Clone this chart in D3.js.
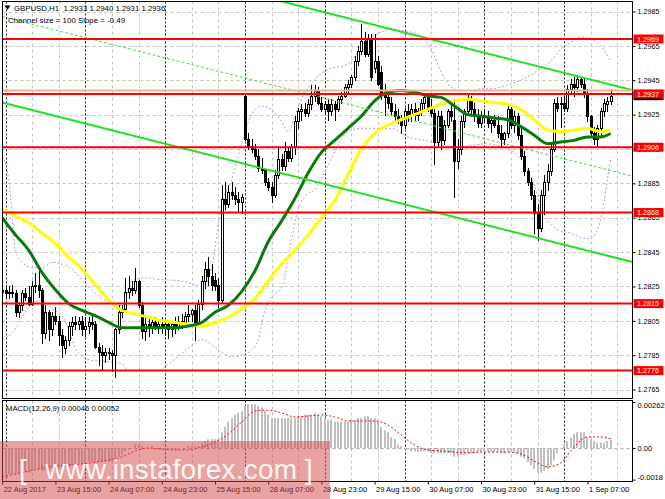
<!DOCTYPE html>
<html><head><meta charset="utf-8">
<script src="https://cdn.jsdelivr.net/npm/d3@7"></script>
<style>
html,body{margin:0;padding:0;background:#fff;overflow:hidden;}
svg{display:block;font-family:"Liberation Sans",Arial,sans-serif;}
</style></head><body>
<svg id="c" width="665" height="499"></svg>
<script>
// ---------------- DATA ----------------
const symbolTitle = "GBPUSD,H1  1.2933 1.2940 1.2931 1.2936";
const channelText = "Channel size = 100 Slope = -0.49";
const macdText = "MACD(12,26,9) 0.00046 0.00052";

const openP = [1.2822,1.2823,1.2821,1.2822,1.2821,1.2810,1.2814,1.2821,1.2819,1.2815,
1.2825,1.2826,1.2823,1.2798,1.2810,1.2800,1.2808,1.2805,1.2797,1.2789,
1.2794,1.2802,1.2804,1.2803,1.2805,1.2800,1.2802,1.2804,1.2803,1.2790,
1.2787,1.2785,1.2787,1.2786,1.2785,1.2800,1.2810,1.2812,1.2822,1.2824,
1.2823,1.2828,1.2814,1.2799,1.2803,1.2801,1.2804,1.2802,1.2803,1.2801,
1.2803,1.2800,1.2803,1.2801,1.2805,1.2804,1.2808,1.2809,1.2811,1.2804,
1.2815,1.2828,1.2835,1.2831,1.2829,1.2826,1.2817,1.2876,1.2873,1.2880,
1.2878,1.2876,1.2874,1.2936,1.2911,1.2907,1.2905,1.2901,1.2894,1.2893,
1.2886,1.2883,1.2878,1.2890,1.2899,1.2895,1.2904,1.2900,1.2906,1.2921,
1.2927,1.2928,1.2926,1.2931,1.2936,1.2939,1.2932,1.2928,1.2931,1.2927,
1.2931,1.2928,1.2934,1.2936,1.2941,1.2943,1.2947,1.2956,1.2962,1.2968,
1.2960,1.2969,1.2952,1.2956,1.2950,1.2938,1.2935,1.2932,1.2927,1.2924,
1.2922,1.2919,1.2927,1.2924,1.2928,1.2925,1.2927,1.2932,1.2935,1.2929,
1.2926,1.2909,1.2924,1.2910,1.2919,1.2927,1.2922,1.2898,1.2905,1.2921,
1.2927,1.2934,1.2928,1.2925,1.2920,1.2925,1.2924,1.2920,1.2922,1.2919,
1.2914,1.2911,1.2914,1.2928,1.2919,1.2924,1.2913,1.2901,1.2892,1.2886,
1.2878,1.2868,1.2859,1.2878,1.2886,1.2892,1.2905,1.2932,1.2931,1.2932,
1.2929,1.2940,1.2943,1.2941,1.2946,1.2943,1.2937,1.2924,1.2914,1.2911,
1.2917,1.2927,1.2931,1.2933];
const highP = [1.2825,1.2826,1.2825,1.2826,1.2823,1.2816,1.2823,1.2824,1.2825,1.2828,
1.2833,1.2835,1.2824,1.2814,1.2811,1.2810,1.2813,1.2808,1.2800,1.2796,
1.2804,1.2807,1.2808,1.2807,1.2808,1.2807,1.2807,1.2808,1.2805,1.2792,
1.2791,1.2789,1.2789,1.2788,1.2801,1.2814,1.2814,1.2830,1.2831,1.2828,
1.2836,1.2829,1.2816,1.2807,1.2807,1.2807,1.2807,1.2805,1.2807,1.2805,
1.2804,1.2805,1.2807,1.2808,1.2809,1.2810,1.2814,1.2812,1.2814,1.2817,
1.2831,1.2839,1.2842,1.2838,1.2833,1.2830,1.2884,1.2886,1.2884,1.2886,
1.2883,1.2880,1.2879,1.2937,1.2914,1.2911,1.2908,1.2905,1.2900,1.2893,
1.2888,1.2886,1.2893,1.2907,1.2902,1.2909,1.2906,1.2908,1.2924,1.2929,
1.2931,1.2932,1.2934,1.2942,1.2942,1.2941,1.2935,1.2933,1.2934,1.2934,
1.2933,1.2936,1.2938,1.2943,1.2945,1.2948,1.2959,1.2965,1.2978,1.2973,
1.2972,1.2972,1.2972,1.2959,1.2953,1.2943,1.2939,1.2935,1.2931,1.2928,
1.2925,1.2929,1.2931,1.2931,1.2932,1.2929,1.2934,1.2937,1.2937,1.2934,
1.2928,1.2927,1.2927,1.2922,1.2928,1.2931,1.2934,1.2911,1.2924,1.2928,
1.2937,1.2936,1.2932,1.2928,1.2927,1.2928,1.2927,1.2924,1.2925,1.2924,
1.2919,1.2915,1.2930,1.2931,1.2927,1.2926,1.2917,1.2904,1.2894,1.2888,
1.2881,1.2873,1.2881,1.2890,1.2896,1.2908,1.2934,1.2935,1.2935,1.2936,
1.2942,1.2946,1.2947,1.2948,1.2947,1.2946,1.2940,1.2925,1.2918,1.2919,
1.2929,1.2934,1.2935,1.2940];
const lowP = [1.2819,1.2819,1.2818,1.2819,1.2808,1.2807,1.2811,1.2817,1.2814,1.2814,
1.2822,1.2819,1.2792,1.2795,1.2794,1.2797,1.2803,1.2791,1.2784,1.2786,
1.2791,1.2797,1.2800,1.2800,1.2797,1.2796,1.2798,1.2800,1.2789,1.2779,
1.2777,1.2781,1.2783,1.2776,1.2772,1.2798,1.2807,1.2811,1.2818,1.2820,
1.2821,1.2813,1.2795,1.2794,1.2796,1.2798,1.2800,1.2798,1.2798,1.2797,
1.2795,1.2796,1.2798,1.2800,1.2801,1.2802,1.2805,1.2805,1.2794,1.2802,
1.2812,1.2824,1.2826,1.2823,1.2823,1.2813,1.2816,1.2870,1.2871,1.2876,
1.2873,1.2869,1.2868,1.2910,1.2905,1.2903,1.2899,1.2892,1.2891,1.2884,
1.2881,1.2874,1.2877,1.2888,1.2893,1.2893,1.2898,1.2898,1.2902,1.2917,
1.2922,1.2924,1.2924,1.2928,1.2933,1.2931,1.2927,1.2926,1.2922,1.2925,
1.2922,1.2927,1.2932,1.2935,1.2938,1.2941,1.2945,1.2954,1.2960,1.2959,
1.2959,1.2945,1.2950,1.2942,1.2934,1.2925,1.2929,1.2925,1.2921,1.2920,
1.2914,1.2917,1.2921,1.2921,1.2922,1.2922,1.2925,1.2929,1.2927,1.2924,
1.2896,1.2906,1.2905,1.2908,1.2918,1.2921,1.2877,1.2894,1.2902,1.2918,
1.2925,1.2925,1.2921,1.2918,1.2918,1.2921,1.2918,1.2915,1.2918,1.2912,
1.2907,1.2908,1.2912,1.2917,1.2915,1.2911,1.2899,1.2890,1.2884,1.2876,
1.2856,1.2852,1.2857,1.2867,1.2881,1.2890,1.2904,1.2927,1.2918,1.2927,
1.2927,1.2937,1.2936,1.2939,1.2941,1.2935,1.2921,1.2912,1.2908,1.2906,
1.2913,1.2924,1.2927,1.2931];
const closeP = [1.2823,1.2821,1.2822,1.2821,1.2810,1.2814,1.2821,1.2819,1.2815,1.2825,
1.2826,1.2823,1.2798,1.2810,1.2800,1.2808,1.2805,1.2797,1.2791,1.2794,
1.2802,1.2804,1.2803,1.2805,1.2800,1.2802,1.2804,1.2803,1.2790,1.2787,
1.2785,1.2787,1.2786,1.2785,1.2800,1.2810,1.2812,1.2822,1.2824,1.2823,
1.2828,1.2814,1.2799,1.2803,1.2801,1.2804,1.2802,1.2803,1.2801,1.2803,
1.2800,1.2803,1.2801,1.2805,1.2804,1.2808,1.2809,1.2811,1.2804,1.2815,
1.2828,1.2835,1.2831,1.2826,1.2825,1.2817,1.2876,1.2873,1.2880,1.2878,
1.2876,1.2874,1.2877,1.2911,1.2907,1.2905,1.2901,1.2894,1.2893,1.2886,
1.2883,1.2878,1.2890,1.2899,1.2895,1.2904,1.2900,1.2906,1.2921,1.2927,
1.2928,1.2926,1.2931,1.2936,1.2939,1.2932,1.2928,1.2931,1.2927,1.2931,
1.2928,1.2934,1.2936,1.2941,1.2943,1.2947,1.2956,1.2962,1.2968,1.2960,
1.2969,1.2947,1.2956,1.2943,1.2938,1.2935,1.2932,1.2927,1.2924,1.2922,
1.2919,1.2927,1.2924,1.2928,1.2925,1.2927,1.2932,1.2935,1.2929,1.2926,
1.2909,1.2924,1.2910,1.2919,1.2927,1.2924,1.2898,1.2905,1.2921,1.2927,
1.2934,1.2928,1.2925,1.2920,1.2925,1.2924,1.2920,1.2922,1.2919,1.2914,
1.2911,1.2914,1.2928,1.2919,1.2924,1.2913,1.2901,1.2892,1.2886,1.2878,
1.2868,1.2859,1.2878,1.2886,1.2892,1.2905,1.2932,1.2929,1.2932,1.2929,
1.2940,1.2943,1.2941,1.2946,1.2943,1.2937,1.2924,1.2914,1.2911,1.2917,
1.2927,1.2932,1.2933,1.2936];

// moving averages, read every 4 bars
const maIdx = [0,4,8,12,16,20,24,28,32,36,40,44,48,52,56,60,64,68,72,76,80,84,88,92,96,100,104,108,112,116,120,124,128,132,136,140,144,148,152,156,160,164,168,172,176,180,183];
const greenMA = [1.2865,1.2855,1.2846,1.2833,1.2823,1.2815,1.2811,1.2808,1.2804,1.2801,1.2801,1.2801,1.2801,1.2801,1.2802,1.2804,1.2810,1.2814,1.2822,1.2834,1.2851,1.2863,1.2876,1.2891,1.2903,1.2910,1.2917,1.2924,1.2933,1.2938,1.2939,1.2938,1.2936,1.2935,1.2930,1.2925,1.2924,1.2923,1.2922,1.2918,1.2913,1.2908,1.2909,1.2910,1.2912,1.2912,1.2914];
const yellowMA = [1.2870,1.2866,1.2862,1.2856,1.2850,1.2842,1.2835,1.2826,1.2817,1.2811,1.2809,1.2807,1.2805,1.2804,1.2803,1.2802,1.2804,1.2807,1.2812,1.2818,1.2828,1.2838,1.2846,1.2855,1.2865,1.2875,1.2890,1.2905,1.2914,1.2919,1.2922,1.2925,1.2928,1.2931,1.2933,1.2934,1.2933,1.2932,1.2931,1.2928,1.2922,1.2916,1.2915,1.2916,1.2917,1.2915,1.2916];

// band envelopes (purple dotted)
const upIdx = [0,2,4,6,9,12,15,18,21,24,27,30,33,36,39,42,48,54,58,60,63,66,69,72,75,78,81,84,86,88,90,93,96,99,102,105,108,111,114,117,120,123,126,129,132,135,138,141,144,147,150,153,156,159,162,165,168,171,174,177,180,183];
const upBand = [1.2901,1.2887,1.2846,1.2839,1.2836,1.2836,1.2839,1.2838,1.2835,1.2829,1.2823,1.2818,1.2815,1.2814,1.2828,1.2830,1.2829,1.2828,1.2826,1.2825,1.2836,1.2873,1.2887,1.2908,1.2925,1.2930,1.2928,1.2921,1.2915,1.2924,1.2934,1.2943,1.2949,1.2952,1.2953,1.2956,1.2965,1.2970,1.2973,1.2975,1.2974,1.2973,1.2971,1.2963,1.2950,1.2941,1.2939,1.2939,1.2940,1.2940,1.2941,1.2943,1.2945,1.2948,1.2952,1.2956,1.2963,1.2967,1.2970,1.2969,1.2965,1.2956];
const loIdx = [0,3,6,9,12,15,18,20,22,24,27,33,36,38,42,47,50,54,58,60,63,65,69,72,75,77,79,81,84,87,89,92,94,96,99,102,105,108,114,117,122,127,133,137,141,146,149,154,159,163,167,171,175,177,180,182,183];
const loBand = [1.2794,1.2798,1.2807,1.2815,1.2817,1.2812,1.2808,1.2800,1.2789,1.2784,1.2782,1.2781,1.2780,1.2776,1.2776,1.2776,1.2780,1.2786,1.2792,1.2794,1.2791,1.2788,1.2784,1.2785,1.2788,1.2794,1.2811,1.2819,1.2824,1.2852,1.2870,1.2879,1.2881,1.2888,1.2899,1.2911,1.2916,1.2917,1.2917,1.2917,1.2912,1.2910,1.2907,1.2906,1.2907,1.2908,1.2907,1.2903,1.2889,1.2867,1.2858,1.2856,1.2853,1.2853,1.2864,1.2887,1.2899];

// regression channel (middle line at first/last anchor) and half width
const chanIdx = [0, 190];
const chanMid = [1.2982, 1.2889];
const chanHalf = 0.0050;

// horizontal levels and current prices
const levels = [1.2969, 1.2937, 1.2906, 1.2868, 1.2815, 1.2776];
const askLine = 1.2939;
const bidPrice = 1.2936;

// MACD
const macdHist = [-0.0016,-0.0016,-0.0015,-0.0015,-0.0015,-0.0015,-0.0014,-0.0014,-0.0014,-0.0013,
-0.0012,-0.0012,-0.0013,-0.0013,-0.0013,-0.0012,-0.0012,-0.0012,-0.0012,-0.0011,
-0.0011,-0.0010,-0.0010,-0.0009,-0.0009,-0.0009,-0.0008,-0.0008,-0.0008,-0.0008,
-0.0008,-0.0008,-0.0008,-0.0008,-0.0007,-0.0005,-0.0004,-0.0002,-0.0001,0.0000,
0.0002,0.0002,0.0001,0.0000,0.0000,0.0001,0.0000,-0.0001,-0.0001,-0.0001,
-0.0001,-0.0001,-0.0001,-0.0001,0.0000,0.0000,0.0001,0.0001,0.0001,0.0001,
0.0003,0.0004,0.0005,0.0005,0.0005,0.0005,0.0009,0.0012,0.0015,0.0017,
0.0019,0.0020,0.0021,0.0024,0.0025,0.0025,0.0025,0.0024,0.0023,0.0021,
0.0019,0.0017,0.0017,0.0017,0.0017,0.0017,0.0017,0.0017,0.0017,0.0018,
0.0018,0.0019,0.0019,0.0019,0.0020,0.0019,0.0018,0.0017,0.0016,0.0016,
0.0015,0.0015,0.0015,0.0015,0.0015,0.0016,0.0016,0.0017,0.0017,0.0018,
0.0018,0.0017,0.0017,0.0015,0.0012,0.0010,0.0009,0.0006,0.0005,0.0002,
0.0001,-0.0001,-0.0001,-0.0002,-0.0002,-0.0002,-0.0002,-0.0002,-0.0002,-0.0003,
-0.0003,-0.0003,-0.0003,-0.0003,-0.0003,-0.0003,-0.0005,-0.0005,-0.0004,-0.0004,
-0.0003,-0.0003,-0.0003,-0.0002,-0.0002,-0.0002,-0.0002,-0.0002,-0.0002,-0.0002,
-0.0003,-0.0003,-0.0002,-0.0002,-0.0002,-0.0003,-0.0005,-0.0006,-0.0008,-0.0010,
-0.0012,-0.0014,-0.0014,-0.0013,-0.0012,-0.0010,-0.0007,-0.0003,0.0000,0.0002,
0.0004,0.0006,0.0008,0.0009,0.0009,0.0009,0.0006,0.0005,0.0004,0.0003,
0.0003,0.0003,0.0004,0.00046];
const sigIdx = [0,8,16,24,32,36,40,44,48,52,56,60,64,68,72,76,80,84,88,92,96,100,104,108,112,116,120,124,128,132,136,140,144,148,152,156,160,164,168,172,176,180,183];
const macdSignal = [-0.00165,-0.00131,-0.00103,-0.00091,-0.00068,-0.00051,-0.00017,0.00000,-0.00006,-0.00011,-0.00011,0.00006,0.00034,0.00080,0.00148,0.00210,0.00216,0.00200,0.00177,0.00182,0.00188,0.00177,0.00154,0.00154,0.00154,0.00131,0.00074,0.00017,-0.00011,-0.00017,-0.00023,-0.00028,-0.00023,-0.00023,-0.00023,-0.00034,-0.00074,-0.00108,-0.00085,0.00006,0.00063,0.00063,0.00052];

// axes
const priceTicks = [1.2985,1.2965,1.2945,1.2925,1.2905,1.2885,1.2865,1.2845,1.2825,1.2805,1.2785,1.2765];
const macdTicks = [0.00262, 0, -0.0018];
const macdTickText = ["0.00262","0.00","-0.0018"];
const timeIdx = [0,16,32,48,64,80,96,112,128,144,160,176];
const timeLabels = ["22 Aug 2017","23 Aug 15:00","24 Aug 07:00","24 Aug 23:00","25 Aug 15:00","28 Aug 07:00","28 Aug 23:00","29 Aug 15:00","30 Aug 07:00","30 Aug 23:00","31 Aug 15:00","1 Sep 07:00"];
const daySepIdx = [1,25,49,73,97,121,145,169];
const watermark = "www.instaforex.com";

// ---------------- DRAW ----------------
const svg = d3.select("#c");
const FONT = "Liberation Sans, Arial, sans-serif";
const X0 = 2.5, X1 = 632.5, T0 = 1.5, B0 = 398.5, T1 = 400.5, B1 = 481.5;
const N = openP.length;
const x = d3.scaleLinear().domain([0, 183]).range([2.2, 2.2 + 183 * 3.325]);
const y = d3.scaleLinear().domain([1.2765, 1.2985]).range([389.5, 11.5]);
const ym = d3.scaleLinear().domain([-0.0018, 0.00262]).range([479.6, 402]);
const px = v => Math.round(v) + 0.5;

const defs = svg.append("defs");
defs.append("clipPath").attr("id", "cm").append("rect").attr("x", X0).attr("y", T0).attr("width", X1 - X0).attr("height", B0 - T0);
defs.append("clipPath").attr("id", "cd").append("rect").attr("x", X0).attr("y", T1).attr("width", X1 - X0).attr("height", B1 - T1);

svg.append("rect").attr("width", 665).attr("height", 499).attr("fill", "#fff");

// horizontal grid
svg.append("g").selectAll("line").data(priceTicks).join("line")
  .attr("x1", X0).attr("x2", X1).attr("y1", d => px(y(d))).attr("y2", d => px(y(d)))
  .attr("stroke", "#c4c4c4").attr("stroke-dasharray", "3,3");

// vertical grid (every 8 bars) and day separators
const vGrid = d3.range(1, 190, 8).filter(i => !daySepIdx.includes(i));
[[T0, B0], [T1, B1]].forEach(([a, b]) => {
  svg.append("g").selectAll("line").data(vGrid).join("line")
    .attr("x1", d => px(x(d))).attr("x2", d => px(x(d))).attr("y1", a).attr("y2", b)
    .attr("stroke", "#c4c4c4").attr("stroke-dasharray", "3,3");
  svg.append("g").selectAll("line").data(daySepIdx).join("line")
    .attr("x1", d => px(x(d))).attr("x2", d => px(x(d))).attr("y1", a).attr("y2", b)
    .attr("stroke", "#222").attr("stroke-dasharray", "2,2");
});

const gm = svg.append("g").attr("clip-path", "url(#cm)");

// purple bands
const bandLine = d3.line().curve(d3.curveMonotoneX);
gm.append("path").attr("d", bandLine(upIdx.map((i, k) => [x(i), y(upBand[k])])))
  .attr("fill", "none").attr("stroke", "#c890e8").attr("stroke-width", 1).attr("stroke-dasharray", "2,2");
gm.append("path").attr("d", bandLine(loIdx.map((i, k) => [x(i), y(loBand[k])])))
  .attr("fill", "none").attr("stroke", "#c890e8").attr("stroke-width", 1).attr("stroke-dasharray", "2,2");

// candles
const bars = d3.range(N).map(i => ({ i, o: openP[i], h: highP[i], l: lowP[i], c: closeP[i] }));
gm.append("g").selectAll("line").data(bars).join("line")
  .attr("x1", d => px(x(d.i))).attr("x2", d => px(x(d.i)))
  .attr("y1", d => Math.round(y(d.h))).attr("y2", d => Math.round(y(d.l)) + 1)
  .attr("stroke", "#000").attr("stroke-width", 1);
gm.append("g").selectAll("rect").data(bars).join("rect")
  .attr("x", d => Math.round(x(d.i)) - 0.5).attr("width", 2)
  .attr("y", d => Math.round(y(Math.max(d.o, d.c))) + 0.5)
  .attr("height", d => Math.max(0, Math.round(y(Math.min(d.o, d.c))) - Math.round(y(Math.max(d.o, d.c)))))
  .attr("fill", d => d.c >= d.o ? "#fff" : "#000").attr("stroke", "#000").attr("stroke-width", 1);

// moving averages
const maLine = d3.line().curve(d3.curveMonotoneX);
gm.append("path").attr("d", maLine(maIdx.map((i, k) => [x(i), y(yellowMA[k])])))
  .attr("fill", "none").attr("stroke", "#ffff00").attr("stroke-width", 3);
gm.append("path").attr("d", maLine(maIdx.map((i, k) => [x(i), y(greenMA[k])])))
  .attr("fill", "none").attr("stroke", "#0a7a0a").attr("stroke-width", 3);

// regression channel
const chan = (off) => chanIdx.map((i, k) => [x(i), y(chanMid[k] + off)]);
const straight = d3.line();
gm.append("path").attr("d", straight(chan(chanHalf))).attr("stroke", "#22e022").attr("stroke-width", 2).attr("fill", "none");
gm.append("path").attr("d", straight(chan(-chanHalf))).attr("stroke", "#22e022").attr("stroke-width", 2).attr("fill", "none");
gm.append("path").attr("d", straight(chan(0))).attr("stroke", "#44e044").attr("stroke-width", 1).attr("stroke-dasharray", "3,2").attr("fill", "none");

// ask line + horizontal levels
gm.append("line").attr("x1", X0).attr("x2", X1).attr("y1", y(askLine)).attr("y2", y(askLine))
  .attr("stroke", "#f6b08e").attr("stroke-width", 2);
gm.append("g").selectAll("line").data(levels).join("line")
  .attr("x1", X0).attr("x2", X1).attr("y1", d => y(d)).attr("y2", d => y(d))
  .attr("stroke", "#ff0000").attr("stroke-width", 2);

// MACD panel
const gd = svg.append("g").attr("clip-path", "url(#cd)");
gd.append("line").attr("x1", X0).attr("x2", X1).attr("y1", px(ym(0))).attr("y2", px(ym(0)))
  .attr("stroke", "#a8a8a8").attr("stroke-dasharray", "3,3");
gd.append("g").selectAll("rect").data(macdHist).join("rect")
  .attr("x", (d, i) => Math.round(x(i)) - 1).attr("width", 2)
  .attr("y", d => Math.min(ym(d), ym(0))).attr("height", d => Math.abs(ym(d) - ym(0)))
  .attr("fill", "#c0c0c0");
gd.append("path").attr("d", maLine(sigIdx.map((i, k) => [x(i), ym(macdSignal[k])])))
  .attr("fill", "none").attr("stroke", "#ff0000").attr("stroke-width", 1).attr("stroke-dasharray", "2,2");

// frames
svg.append("rect").attr("x", X0).attr("y", T0).attr("width", X1 - X0).attr("height", B0 - T0)
  .attr("fill", "none").attr("stroke", "#000");
svg.append("rect").attr("x", X0).attr("y", T1).attr("width", X1 - X0).attr("height", B1 - T1)
  .attr("fill", "none").attr("stroke", "#000");

// price axis
const pa = svg.append("g").attr("transform", `translate(${X1},0)`)
  .call(d3.axisRight(y).tickValues(priceTicks).tickSize(3).tickPadding(2).tickFormat(d3.format(".4f")));
pa.select(".domain").remove();
pa.selectAll("text").attr("font-size", 7.2).attr("font-family", FONT).attr("fill", "#000");

// current bid marker (black, mostly hidden) and ask line stub on the axis
svg.append("line").attr("x1", X1).attr("x2", 665).attr("y1", y(askLine)).attr("y2", y(askLine))
  .attr("stroke", "#f6b08e").attr("stroke-width", 2);
svg.append("rect").attr("x", X1 + 1).attr("y", y(bidPrice) - 4.5).attr("width", 30).attr("height", 9).attr("fill", "#000");

// red level labels
const lg = svg.append("g").selectAll("g").data(levels).join("g")
  .attr("transform", d => `translate(${X1 + 1},${y(d)})`);
lg.append("rect").attr("x", 0).attr("y", -4.5).attr("width", 30).attr("height", 9).attr("fill", "#ff0000");
lg.append("text").attr("x", 3.5).attr("y", 2.6).attr("font-size", 7.2).attr("font-family", FONT).attr("fill", "#fff").text(d => d.toFixed(4));

// MACD axis
const ma = svg.append("g").attr("transform", `translate(${X1},0)`)
  .call(d3.axisRight(ym).tickValues(macdTicks).tickSize(3).tickPadding(2).tickFormat((d, k) => macdTickText[k]));
ma.select(".domain").remove();
ma.selectAll("text").attr("font-size", 7.5).attr("font-family", FONT).attr("fill", "#000")
  .attr("dy", (d, k) => k === 0 ? "0.75em" : (k === 2 ? "-0.05em" : "0.32em"));

// time axis
const ta = svg.append("g").attr("transform", `translate(0,${B1})`)
  .call(d3.axisBottom(x).tickValues(timeIdx).tickSize(3).tickFormat((d, k) => timeLabels[k]));
ta.select(".domain").remove();
ta.selectAll("text").attr("font-size", 7.5).attr("font-family", FONT).attr("fill", "#000")
  .attr("text-anchor", "start").attr("x", 1).attr("y", 5).attr("dy", "0.71em");

// header texts
svg.append("path").attr("d", "M4.5,5.5 L10.5,5.5 L7.5,10 Z").attr("fill", "#000");
svg.append("text").attr("x", 14).attr("y", 11).attr("font-size", 7.8).attr("fill", "#000")
  .attr("xml:space", "preserve").style("white-space", "pre").text(symbolTitle);
svg.append("text").attr("x", 8).attr("y", 23).attr("font-size", 7.9).attr("fill", "#000").text(channelText);
svg.append("text").attr("x", 6).attr("y", 411).attr("font-size", 7.7).attr("fill", "#000").text(macdText);

// watermark
svg.append("rect").attr("x", 0).attr("y", 441).attr("width", 330).attr("height", 58)
  .attr("fill", "rgb(210,70,70)").attr("fill-opacity", 0.5);
const wm = svg.append("g").attr("fill", "#fff").attr("fill-opacity", 0.92).attr("font-size", 28);
wm.append("text").attr("x", 19).attr("y", 479).text("[");
wm.append("text").attr("x", 45).attr("y", 479).attr("textLength", 252).text(watermark);
wm.append("text").attr("x", 305).attr("y", 479).text("]");
</script>
</body></html>
